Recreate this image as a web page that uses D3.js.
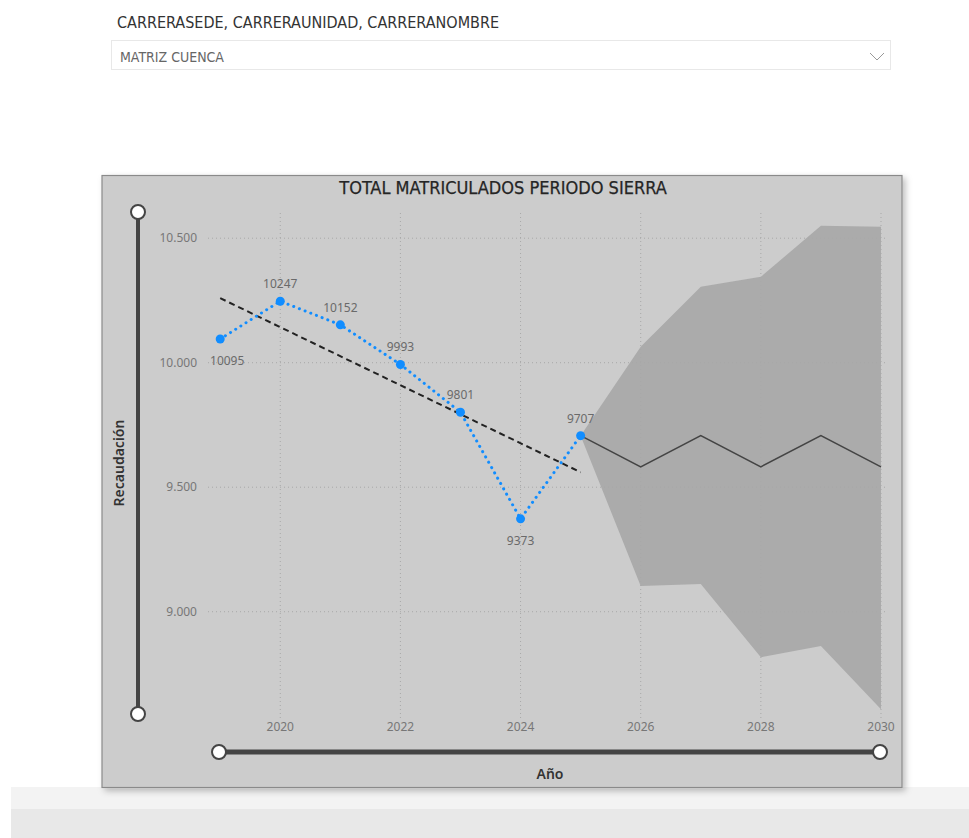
<!DOCTYPE html>
<html>
<head>
<meta charset="utf-8">
<script src="https://cdn.jsdelivr.net/npm/d3@7/dist/d3.min.js"></script>
<style>
  html, body { margin: 0; padding: 0; background: #ffffff; }
  svg { display: block; }
</style>
</head>
<body>
<svg id="page" width="969" height="838"></svg>
<script>
// Observed enrolment per year
const years = [2019, 2020, 2021, 2022, 2023, 2024, 2025];
const enrolled = [10095, 10247, 10152, 9993, 9801, 9373, 9707];

// Forecast continuation and its confidence band
const forecastYears = [2025, 2026, 2027, 2028, 2029, 2030];
const forecast = [9707, 9582, 9707, 9582, 9707, 9582];
const bandUpper = [9707, 10064, 10305, 10345, 10550, 10546];
const bandLower = [9707, 9103, 9111, 8817, 8862, 8608];

// Axis ticks
const xTicks = [2020, 2022, 2024, 2026, 2028, 2030];
const yTicks = [9000, 9500, 10000, 10500];

const svg = d3.select("#page");
const narrow = "'Liberation Sans Narrow', 'DejaVu Sans Condensed', sans-serif";
const body = "'Noto Sans', 'Open Sans', sans-serif";

// ---- slicer header ----
svg.append("text").attr("x", 117).attr("y", 28)
  .attr("font-family", narrow).attr("font-size", 16).attr("fill", "#333")
  .text("CARRERASEDE, CARRERAUNIDAD, CARRERANOMBRE");
svg.append("rect").attr("x", 111.5).attr("y", 40.5).attr("width", 779).attr("height", 29)
  .attr("fill", "#fff").attr("stroke", "#e8e8e8");
svg.append("text").attr("x", 120).attr("y", 62)
  .attr("font-family", narrow).attr("font-size", 14).attr("fill", "#666")
  .text("MATRIZ CUENCA");
svg.append("path").attr("d", "M870,53 L877,60 L884,53")
  .attr("fill", "none").attr("stroke", "#999").attr("stroke-width", 1);

// ---- page footer strips ----
svg.append("rect").attr("x", 11).attr("y", 787).attr("width", 958).attr("height", 22).attr("fill", "#f3f3f3");
svg.append("rect").attr("x", 11).attr("y", 809).attr("width", 958).attr("height", 29).attr("fill", "#e8e8e8");

// ---- visual container with shadow ----
const defs = svg.append("defs");
const f = defs.append("filter").attr("id", "shadow").attr("x", "-5%").attr("y", "-5%").attr("width", "112%").attr("height", "112%");
f.append("feDropShadow").attr("dx", 3).attr("dy", 3).attr("stdDeviation", 3).attr("flood-color", "#000").attr("flood-opacity", 0.25);
svg.append("rect").attr("x", 102).attr("y", 175.5).attr("width", 800).attr("height", 612)
  .attr("fill", "#cccccc").attr("stroke", "#8a8a8a").attr("stroke-width", 1.2)
  .attr("filter", "url(#shadow)");

svg.append("text").attr("x", 503).attr("y", 194).attr("text-anchor", "middle")
  .attr("font-family", narrow).attr("font-size", 18).attr("fill", "#252525")
  .attr("stroke", "#252525").attr("stroke-width", 0.25)
  .text("TOTAL MATRICULADOS PERIODO SIERRA");

// ---- scales ----
const x = d3.scaleLinear().domain([2019, 2030]).range([220.2, 881]);
const y = d3.scaleLinear().domain([8570, 10600]).range([718.8, 213.3]);

// gridlines
const g = svg.append("g");
g.selectAll(".vg").data(xTicks).join("line")
  .attr("x1", d => x(d)).attr("x2", d => x(d)).attr("y1", 213).attr("y2", 718)
  .attr("stroke", "#a8a8a8").attr("stroke-width", 1).attr("stroke-dasharray", "1 3");
g.selectAll(".hg").data(yTicks).join("line")
  .attr("x1", 208).attr("x2", 887).attr("y1", d => y(d)).attr("y2", d => y(d))
  .attr("stroke", "#a8a8a8").attr("stroke-width", 1).attr("stroke-dasharray", "1 3");

// confidence band
const bandData = forecastYears.map((yr, i) => ({ yr, lo: bandLower[i], hi: bandUpper[i] }));
svg.append("path").datum(bandData)
  .attr("fill", "#a9a9a9").attr("fill-opacity", 0.95)
  .attr("d", d3.area().x(d => x(d.yr)).y0(d => y(d.lo)).y1(d => y(d.hi)));

// keep the gridlines visible over the band
g.raise();

// forecast line
const fcData = forecastYears.map((yr, i) => ({ yr, v: forecast[i] }));
svg.append("path").datum(fcData)
  .attr("fill", "none").attr("stroke", "#444").attr("stroke-width", 1.5)
  .attr("d", d3.line().x(d => x(d.yr)).y(d => y(d.v)));

// linear trend of the observed series
const n = years.length;
const mx = d3.mean(years), my = d3.mean(enrolled);
const slope = d3.sum(years, (yr, i) => (yr - mx) * (enrolled[i] - my)) / d3.sum(years, yr => (yr - mx) ** 2);
const trend = [years[0], years[n - 1]].map(yr => ({ yr, v: my + slope * (yr - mx) }));
svg.append("path").datum(trend)
  .attr("fill", "none").attr("stroke", "#222").attr("stroke-width", 2)
  .attr("stroke-dasharray", "6 4")
  .attr("d", d3.line().x(d => x(d.yr)).y(d => y(d.v)));

// observed series: dotted line with markers
const obs = years.map((yr, i) => ({ yr, v: enrolled[i] }));
svg.append("path").datum(obs)
  .attr("fill", "none").attr("stroke", "#118DFF").attr("stroke-width", 3)
  .attr("stroke-linecap", "round").attr("stroke-dasharray", "0.1 6")
  .attr("d", d3.line().x(d => x(d.yr)).y(d => y(d.v)));
svg.selectAll(".pt").data(obs).join("circle")
  .attr("cx", d => x(d.yr)).attr("cy", d => y(d.v)).attr("r", 4.5).attr("fill", "#118DFF");

// data labels: below for the first point and the dip, above otherwise
const below = new Set([2019, 2024]);
svg.selectAll(".lbl").data(obs).join("text")
  .attr("x", d => x(d.yr) + (d.yr === 2019 ? 7 : 0))
  .attr("y", d => below.has(d.yr) ? y(d.v) + 26 : y(d.v) - 13)
  .attr("text-anchor", "middle")
  .attr("font-family", body).attr("font-size", 12).attr("fill", "#6a6a6a")
  .text(d => d.v);

// axis tick labels
const fmt = d3.formatLocale({ decimal: ",", thousands: ".", grouping: [3], currency: ["", ""] }).format(",");
svg.selectAll(".yt").data(yTicks).join("text")
  .attr("x", 197).attr("y", d => y(d) + 4).attr("text-anchor", "end")
  .attr("font-family", body).attr("font-size", 12).attr("fill", "#777")
  .text(d => fmt(d));
svg.selectAll(".xt").data(xTicks).join("text")
  .attr("x", d => x(d)).attr("y", 731).attr("text-anchor", "middle")
  .attr("font-family", body).attr("font-size", 12).attr("fill", "#777")
  .text(d => d);

// axis titles
svg.append("text").attr("transform", "translate(124,463) rotate(-90)").attr("text-anchor", "middle")
  .attr("font-family", body).attr("font-size", 14).attr("font-weight", 600).attr("fill", "#333")
  .text("Recaudación");
svg.append("text").attr("x", 550).attr("y", 779).attr("text-anchor", "middle")
  .attr("font-family", body).attr("font-size", 14).attr("font-weight", 600).attr("fill", "#333")
  .text("Año");

// zoom sliders
svg.append("line").attr("x1", 138).attr("x2", 138).attr("y1", 212).attr("y2", 714)
  .attr("stroke", "#444").attr("stroke-width", 4);
svg.append("line").attr("x1", 219).attr("x2", 880).attr("y1", 752).attr("y2", 752)
  .attr("stroke", "#444").attr("stroke-width", 5);
[[138, 212], [138, 714], [219, 752], [880, 752]].forEach(([cx, cy]) => {
  svg.append("circle").attr("cx", cx).attr("cy", cy).attr("r", 7)
    .attr("fill", "#fff").attr("stroke", "#444").attr("stroke-width", 2);
});
</script>
</body>
</html>
